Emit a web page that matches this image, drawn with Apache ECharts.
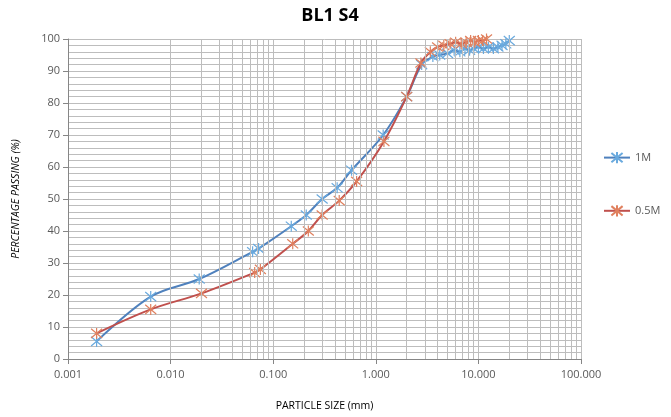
<!DOCTYPE html>
<html>
<head>
<meta charset="utf-8">
<script src="https://cdn.jsdelivr.net/npm/echarts@6/dist/echarts.min.js"></script>
<style>
    html, body { margin: 0; padding: 0; background: #fff; }
    #chart { width: 671px; height: 417px; }
</style>
</head>
<body>
<div id="chart"></div>
<script>
// particle size (mm) / percentage passing
const size1M = [0.0019, 0.0064, 0.019, 0.063, 0.072, 0.15, 0.21, 0.30, 0.42, 0.58, 1.18, 2.0, 2.8,
    3.6, 4.2, 5.0, 5.8, 6.6, 7.4, 8.2, 9.0, 10.0, 11.2, 12.5, 14.0, 15.5, 17.0, 18.5, 20.0];
const pass1M = [5.5, 19.5, 25, 33.5, 34.5, 41.5, 45, 50, 53.5, 59, 70, 82, 92,
    94.5, 95, 95.5, 96.5, 96, 97, 96.5, 97, 97.5, 97, 97.5, 97, 97.5, 98, 98.5, 99.5];

const size05M = [0.0019, 0.0064, 0.020, 0.066, 0.075, 0.155, 0.22, 0.30, 0.44, 0.65, 1.2, 2.0, 2.75,
    3.4, 4.0, 4.6, 5.3, 6.0, 6.8, 7.6, 8.4, 9.2, 10.0, 11.0, 12.0];
const pass05M = [8, 15.5, 20.5, 27, 28, 36, 40, 45, 49.5, 55.5, 68, 82, 92.5,
    96, 97.5, 98, 98.5, 99, 98.5, 99, 99.5, 99, 99.5, 99.5, 100];

const xTicks = [0.001, 0.01, 0.1, 1, 10, 100];
const yTicks = [0, 10, 20, 30, 40, 50, 60, 70, 80, 90, 100];

const gridColor = "#bdbdbd";
const textColor = "#595959";
const starPath = "path://M0,0L10,10M10,0L0,10M5,-1L5,11";

// minor vertical lines of the log grid (2..9 in each decade)
const minorX = [];
xTicks.slice(0, -1).forEach(function(d) {
    for(let k = 2; k <= 9; k++) {
        minorX.push({ xAxis: +(d * k).toPrecision(3) });
    }
});

function pairs(xs, ys) {
    return xs.map(function(x, i) { return [x, ys[i]]; });
}

const chart = echarts.init(document.getElementById("chart"), null, { renderer: "canvas" });
chart.setOption({
    animation: false,
    title: {
        text: "BL1 S4",
        left: 325,
        top: 2,
        textAlign: "center",
        textStyle: {
            fontFamily: "Open Sans",
            fontSize: 18,
            fontWeight: "bold",
            color: "#000"
        }
    },
    legend: {
        orient: "vertical",
        left: 598,
        top: 146,
        itemGap: 40,
        itemWidth: 26,
        itemHeight: 14,
        textStyle: {
            fontFamily: "Open Sans",
            fontSize: 11,
            color: textColor
        },
        data: ["1M", "0.5M"]
    },
    grid: {
        left: 68,
        right: 90,
        top: 39,
        bottom: 58,
        containLabel: false
    },
    xAxis: {
        type: "log",
        logBase: 10,
        min: xTicks[0],
        max: xTicks[xTicks.length - 1],
        name: "PARTICLE SIZE (mm)",
        nameLocation: "middle",
        nameGap: 42,
        nameTextStyle: {
            fontFamily: "Open Sans",
            fontSize: 10.5,
            color: "#000"
        },
        axisLine: { lineStyle: { color: "#868686" } },
        axisTick: { show: true, inside: false, length: 5, lineStyle: { color: "#868686" } },
        axisLabel: {
            fontFamily: "Open Sans",
            fontSize: 11,
            color: textColor,
            margin: 10,
            formatter: function(v) { return v.toFixed(3); }
        },
        splitLine: { show: true, lineStyle: { color: gridColor, width: 1 } },
        minorTick: { show: false },
        minorSplitLine: { show: false }
    },
    yAxis: {
        type: "value",
        min: yTicks[0],
        max: yTicks[yTicks.length - 1],
        interval: 10,
        name: "PERCENTAGE PASSING (%)",
        nameLocation: "middle",
        nameGap: 46,
        nameTextStyle: {
            fontFamily: "Open Sans",
            fontSize: 10.5,
            fontStyle: "italic",
            color: "#000"
        },
        axisLine: { show: true, lineStyle: { color: "#868686" } },
        axisTick: { show: true, inside: false, length: 5, lineStyle: { color: "#868686" } },
        axisLabel: {
            fontFamily: "Open Sans",
            fontSize: 11,
            color: textColor,
            margin: 8
        },
        splitLine: { show: true, lineStyle: { color: gridColor, width: 1 } },
        minorTick: { show: false, splitNumber: 5 },
        minorSplitLine: { show: true, lineStyle: { color: gridColor, width: 1 } }
    },
    series: [
        {
            name: "minor",
            type: "line",
            data: [],
            silent: true,
            z: 1,
            markLine: {
                silent: true,
                symbol: "none",
                label: { show: false },
                lineStyle: { color: gridColor, width: 1, type: "solid" },
                data: minorX
            }
        },
        {
            name: "1M",
            type: "line",
            smooth: 0.35,
            z: 3,
            symbol: starPath,
            symbolSize: 11,
            lineStyle: { color: "#4f81bd", width: 2 },
            itemStyle: { color: "transparent", borderColor: "#6aaade", borderWidth: 1.2 },
            data: pairs(size1M, pass1M)
        },
        {
            name: "0.5M",
            type: "line",
            smooth: 0.35,
            z: 4,
            symbol: starPath,
            symbolSize: 11,
            lineStyle: { color: "#c0504d", width: 2 },
            itemStyle: { color: "transparent", borderColor: "#e0805e", borderWidth: 1.2 },
            data: pairs(size05M, pass05M)
        }
    ]
});
</script>
</body>
</html>
